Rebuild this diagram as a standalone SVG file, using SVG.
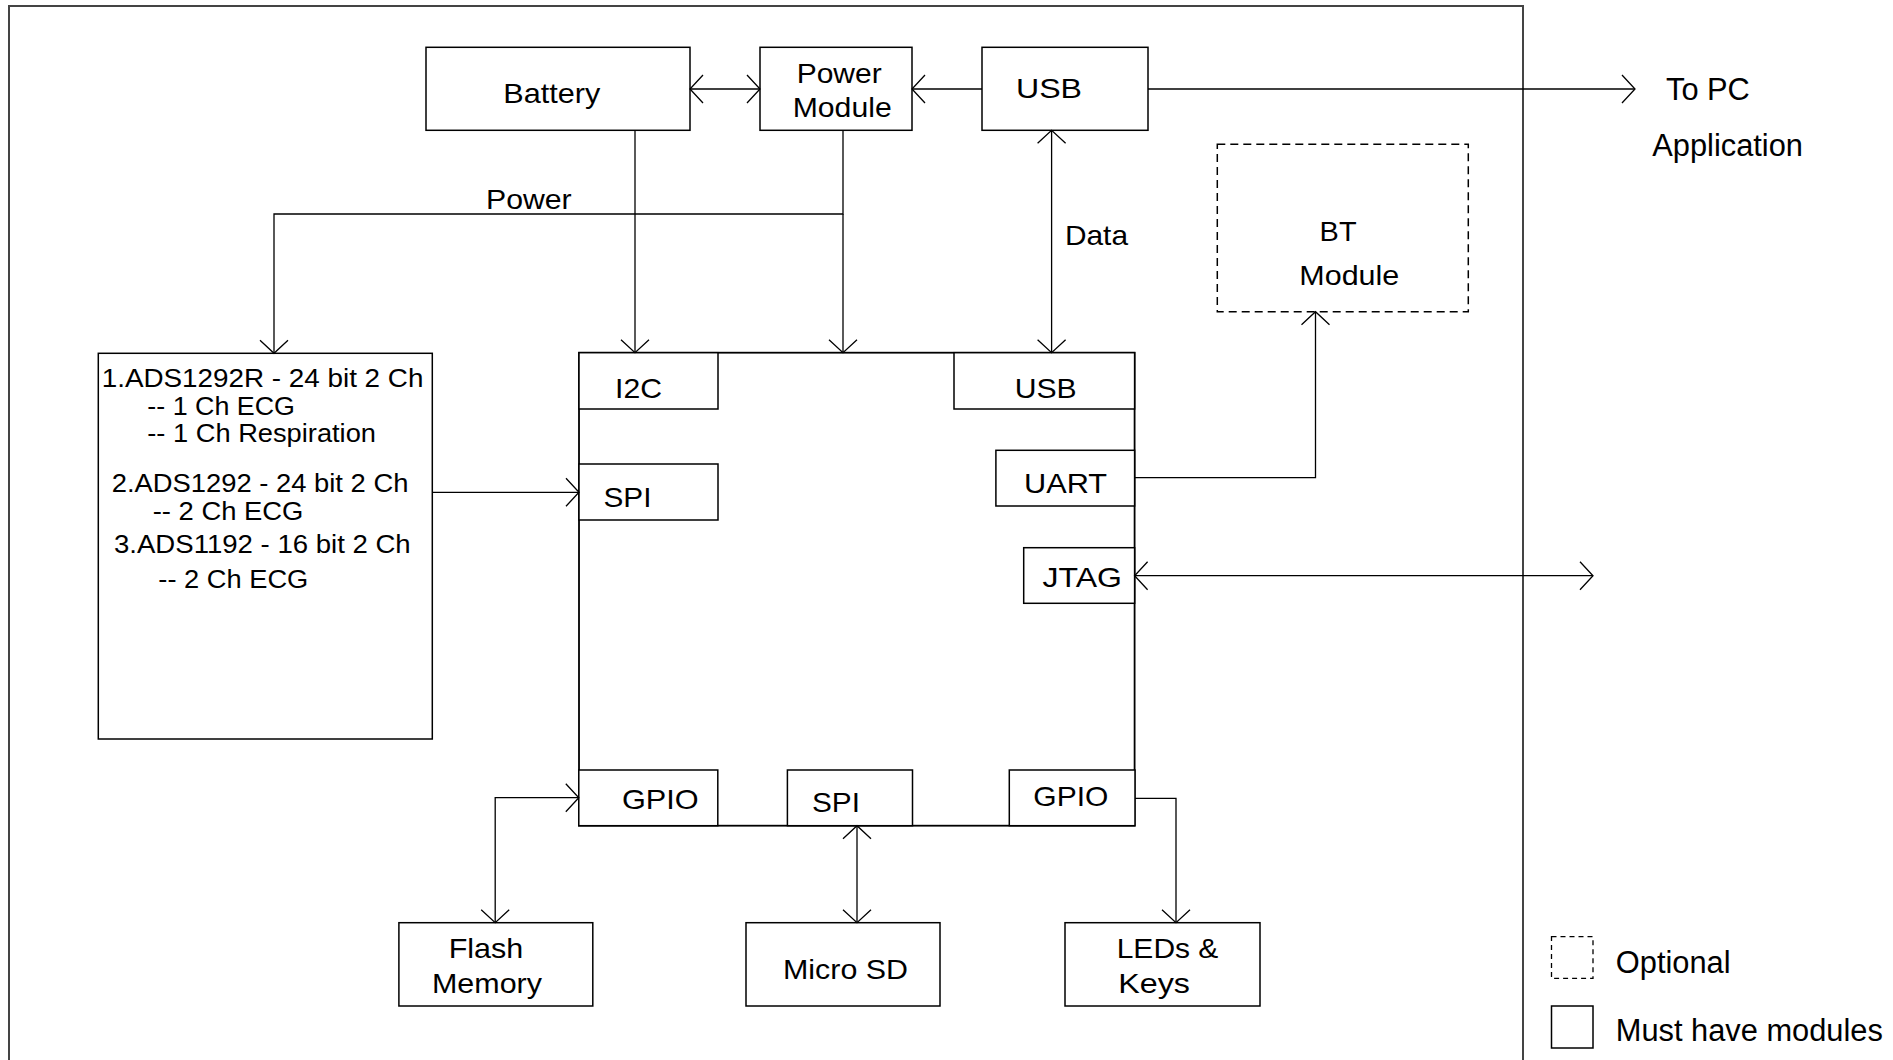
<svg xmlns="http://www.w3.org/2000/svg" width="1893" height="1060" viewBox="0 0 1893 1060">
<style>
  .box { fill: #fff; stroke: #000; stroke-width: 1.5; }
  .mcu { fill: #fff; stroke: #000; stroke-width: 1.8; }
  .dash { fill: #fff; stroke: #000; stroke-width: 1.5; stroke-dasharray: 8 5; }
  .ldash { fill: #fff; stroke: #000; stroke-width: 1.3; stroke-dasharray: 5 4; }
  .conn { fill: none; stroke: #000; stroke-width: 1.3; }
  .frame { fill: none; stroke: #444; stroke-width: 2; }
  text { font-family: "Liberation Sans", Arial, sans-serif; fill: #000; }
  .t { font-size: 28.5px; }
  .s { font-size: 25px; }
  .o { font-size: 30.8px; }
</style>
<defs>
  <marker id="arr" markerUnits="userSpaceOnUse" viewBox="-16 -16 20 32" refX="0" refY="0" markerWidth="20" markerHeight="32" orient="auto-start-reverse">
    <path d="M -13 -14 L 0 0 L -13 14" fill="none" stroke="#000" stroke-width="1.3"/>
  </marker>
</defs>
<rect width="1893" height="1060" fill="#fff"/>
<path class="frame" d="M 9 1062 V 6 H 1523 V 1062"/>

<g id="mcu">
  <rect class="mcu" x="579" y="352.7" width="555.6" height="473"/>
</g>
<g id="battery">
  <rect class="box" x="426" y="47.3" width="264" height="83"/>
  <text class="t" x="503.3" y="103.3" textLength="97" lengthAdjust="spacingAndGlyphs">Battery</text>
</g>
<g id="power-module">
  <rect class="box" x="760" y="47.3" width="152" height="83"/>
  <text class="t" x="796.7" y="83.3" textLength="85" lengthAdjust="spacingAndGlyphs">Power</text>
  <text class="t" x="792.7" y="117.3" textLength="99" lengthAdjust="spacingAndGlyphs">Module</text>
</g>
<g id="usb-top">
  <rect class="box" x="982" y="47.3" width="166" height="83"/>
  <text class="t" x="1016" y="97.7" textLength="66" lengthAdjust="spacingAndGlyphs">USB</text>
</g>
<g id="bt-module">
  <rect class="dash" x="1217.3" y="144.3" width="251" height="167.4"/>
  <text class="t" x="1319.6" y="240.5" textLength="37" lengthAdjust="spacingAndGlyphs">BT</text>
  <text class="t" x="1299.3" y="285" textLength="100" lengthAdjust="spacingAndGlyphs">Module</text>
</g>
<g id="ads">
  <rect class="box" x="98.3" y="353.3" width="334" height="385.7"/>
  <text class="s" x="101.7" y="387.3" textLength="321.7" lengthAdjust="spacingAndGlyphs">1.ADS1292R - 24 bit 2 Ch</text>
  <text class="s" x="147.3" y="415" textLength="147.7" lengthAdjust="spacingAndGlyphs">-- 1 Ch ECG</text>
  <text class="s" x="147.3" y="441.7" textLength="228.7" lengthAdjust="spacingAndGlyphs">-- 1 Ch Respiration</text>
  <text class="s" x="111.7" y="491.7" textLength="296.7" lengthAdjust="spacingAndGlyphs">2.ADS1292 - 24 bit 2 Ch</text>
  <text class="s" x="152.7" y="520" textLength="150.7" lengthAdjust="spacingAndGlyphs">-- 2 Ch ECG</text>
  <text class="s" x="114" y="553.3" textLength="296.7" lengthAdjust="spacingAndGlyphs">3.ADS1192 - 16 bit 2 Ch</text>
  <text class="s" x="158.3" y="588.3" textLength="150" lengthAdjust="spacingAndGlyphs">-- 2 Ch ECG</text>
</g>
<g id="i2c">
  <rect class="box" x="579" y="352.7" width="139" height="56.3"/>
  <text class="t" x="615" y="398.3" textLength="47" lengthAdjust="spacingAndGlyphs">I2C</text>
</g>
<g id="usb-mcu">
  <rect class="box" x="954" y="352.7" width="180.6" height="56.3"/>
  <text class="t" x="1014.7" y="398.3" textLength="62" lengthAdjust="spacingAndGlyphs">USB</text>
</g>
<g id="spi-left">
  <rect class="box" x="579" y="464" width="139" height="56"/>
  <text class="t" x="603.5" y="506.7" textLength="48" lengthAdjust="spacingAndGlyphs">SPI</text>
</g>
<g id="uart">
  <rect class="box" x="995.9" y="450.3" width="138.7" height="55.7"/>
  <text class="t" x="1024" y="493" textLength="83" lengthAdjust="spacingAndGlyphs">UART</text>
</g>
<g id="jtag">
  <rect class="box" x="1023.7" y="547.7" width="110.9" height="55.6"/>
  <text class="t" x="1042.6" y="586.7" textLength="79.4" lengthAdjust="spacingAndGlyphs">JTAG</text>
</g>
<g id="gpio-left">
  <rect class="box" x="578.8" y="770" width="139" height="55.7"/>
  <text class="t" x="622" y="809" textLength="76.7" lengthAdjust="spacingAndGlyphs">GPIO</text>
</g>
<g id="spi-bottom">
  <rect class="box" x="787.4" y="770" width="125.1" height="55.7"/>
  <text class="t" x="812" y="811.7" textLength="48" lengthAdjust="spacingAndGlyphs">SPI</text>
</g>
<g id="gpio-right">
  <rect class="box" x="1009.3" y="770" width="125.7" height="55.7"/>
  <text class="t" x="1033.3" y="805.7" textLength="75" lengthAdjust="spacingAndGlyphs">GPIO</text>
</g>
<g id="flash">
  <rect class="box" x="398.9" y="922.7" width="193.9" height="83.3"/>
  <text class="t" x="448.7" y="958" textLength="74.6" lengthAdjust="spacingAndGlyphs">Flash</text>
  <text class="t" x="432" y="993" textLength="110" lengthAdjust="spacingAndGlyphs">Memory</text>
</g>
<g id="microsd">
  <rect class="box" x="746" y="922.7" width="194" height="83.3"/>
  <text class="t" x="783" y="979.3" textLength="125" lengthAdjust="spacingAndGlyphs">Micro SD</text>
</g>
<g id="leds">
  <rect class="box" x="1065" y="922.7" width="195" height="83.3"/>
  <text class="t" x="1116.7" y="958.3" textLength="101.7" lengthAdjust="spacingAndGlyphs">LEDs &amp;</text>
  <text class="t" x="1118.3" y="993" textLength="71.7" lengthAdjust="spacingAndGlyphs">Keys</text>
</g>

<g id="connectors">
  <line class="conn" x1="690" y1="89" x2="760" y2="89" marker-start="url(#arr)" marker-end="url(#arr)"/>
  <line class="conn" x1="982" y1="89" x2="912" y2="89" marker-end="url(#arr)"/>
  <line class="conn" x1="1148" y1="89" x2="1635" y2="89" marker-end="url(#arr)"/>
  <path class="conn" d="M 843 130.3 V 214 H 274 V 353.3" marker-end="url(#arr)"/>
  <line class="conn" x1="843" y1="214" x2="843" y2="352.7" marker-end="url(#arr)"/>
  <line class="conn" x1="635" y1="130.3" x2="635" y2="352.7" marker-end="url(#arr)"/>
  <line class="conn" x1="1051.6" y1="130.3" x2="1051.6" y2="352.7" marker-start="url(#arr)" marker-end="url(#arr)"/>
  <line class="conn" x1="432.3" y1="492.3" x2="579" y2="492.3" marker-end="url(#arr)"/>
  <path class="conn" d="M 1134.6 477.7 H 1315.5 V 311.7" marker-end="url(#arr)"/>
  <line class="conn" x1="1134.6" y1="575.7" x2="1593" y2="575.7" marker-start="url(#arr)" marker-end="url(#arr)"/>
  <path class="conn" d="M 495.2 922.7 V 797.7 H 578.8" marker-start="url(#arr)" marker-end="url(#arr)"/>
  <line class="conn" x1="857" y1="825.7" x2="857" y2="922.7" marker-start="url(#arr)" marker-end="url(#arr)"/>
  <path class="conn" d="M 1135 798.3 H 1176 V 922.7" marker-end="url(#arr)"/>
</g>

<g id="labels">
  <text class="t" x="486" y="209" textLength="85.7" lengthAdjust="spacingAndGlyphs">Power</text>
  <text class="t" x="1065" y="245" textLength="63" lengthAdjust="spacingAndGlyphs">Data</text>
  <text class="o" x="1666" y="100">To PC</text>
  <text class="o" x="1652.3" y="156">Application</text>
</g>

<g id="legend">
  <rect class="ldash" x="1551.5" y="936.7" width="41.5" height="41.6"/>
  <text class="o" x="1615.8" y="972.7">Optional</text>
  <rect class="box" x="1551.5" y="1006" width="41.5" height="42"/>
  <text class="o" x="1615.8" y="1041">Must have modules</text>
</g>
</svg>
